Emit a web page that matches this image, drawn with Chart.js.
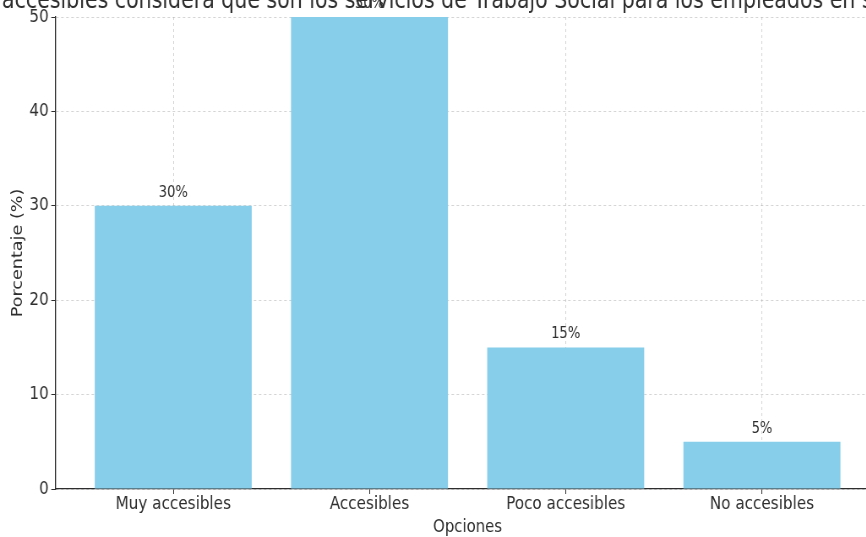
<!DOCTYPE html>
<html><head><meta charset="utf-8">
<script src="https://cdn.jsdelivr.net/npm/chart.js@4.4.1/dist/chart.umd.min.js"></script>
<style>
html,body{margin:0;padding:0;background:#fff;overflow:hidden;}
#wrap{width:866px;height:537px;overflow:hidden;position:relative;background:#fff;}
#c{position:absolute;left:0;top:0;transform:scaleX(0.845);transform-origin:0 0;}
</style></head><body>
<div id="wrap"><canvas id="c" width="1043" height="537"></canvas></div>
<script>
const categories = ['Muy accesibles', 'Accesibles', 'Poco accesibles', 'No accesibles'];
const percentages = [30, 50, 15, 5];
const yTickValues = [0, 10, 20, 30, 40, 50];
const titleText = '¿Qué tan accesibles considera que son los servicios de Trabajo Social para los empleados en su empresa?';
const titleHidden = '¿Qué tan ';
const xTitle = 'Opciones';
const yTitle = 'Porcentaje (%)';

const SX = 0.845;
const FONT = '"DejaVu Sans", "Liberation Sans", sans-serif';
const TXT = '#2e2e2e';

const titlePlugin = {
  id: 'figTitle',
  afterDraw(chart) {
    const ctx = chart.ctx;
    ctx.save();
    ctx.font = '24.3px ' + FONT;
    ctx.fillStyle = TXT;
    ctx.textAlign = 'left';
    ctx.textBaseline = 'alphabetic';
    const x = 2 / SX - ctx.measureText(titleHidden).width;
    ctx.fillText(titleText, x, 8);
    ctx.restore();
  }
};

const labelPlugin = {
  id: 'barLabels',
  afterDatasetsDraw(chart) {
    const ctx = chart.ctx;
    const meta = chart.getDatasetMeta(0);
    ctx.save();
    ctx.font = '15.5px ' + FONT;
    ctx.fillStyle = TXT;
    ctx.textAlign = 'center';
    ctx.textBaseline = 'alphabetic';
    meta.data.forEach((bar, i) => {
      ctx.fillText(percentages[i] + '%', bar.x, bar.y - 9);
    });
    ctx.restore();
  }
};

const gridColor = 'rgba(160,160,160,0.45)';

new Chart(document.getElementById('c'), {
  type: 'bar',
  data: {
    datasets: [{
      data: percentages.map((v, i) => ({ x: i, y: v })),
      backgroundColor: '#87CEEB',
      borderWidth: 0,
      barPercentage: 0.8,
      categoryPercentage: 1.0
    }]
  },
  options: {
    responsive: false,
    animation: false,
    devicePixelRatio: 1,
    layout: { padding: { top: 17, right: 2, bottom: 0, left: 0 } },
    plugins: { legend: { display: false }, tooltip: { enabled: false } },
    scales: {
      x: {
        type: 'linear',
        min: -0.6,
        max: 3.6,
        offset: false,
        z: 1,
        afterBuildTicks: (s) => { s.ticks = categories.map((c, i) => ({ value: i })); },
        afterFit: (s) => { s.height = 48; },
        ticks: {
          autoSkip: false,
          maxRotation: 0,
          padding: 0,
          color: TXT,
          font: { family: FONT, size: 18 },
          callback: (v) => categories[v] !== undefined ? categories[v] : ''
        },
        grid: {
          display: true,
          offset: false,
          color: gridColor,
          lineWidth: 1,
          drawTicks: true,
          tickLength: 5,
          tickColor: TXT,
          tickWidth: 1
        },
        border: { display: true, color: TXT, width: 1.3, dash: [3, 3] },
        title: {
          display: true,
          text: xTitle,
          color: TXT,
          font: { family: FONT, size: 17.6, lineHeight: 1.1 },
          padding: { top: 0, bottom: 0 }
        }
      },
      y: {
        type: 'linear',
        min: 0,
        max: 50,
        z: 1,
        afterBuildTicks: (s) => { s.ticks = yTickValues.map(v => ({ value: v })); },
        afterFit: (s) => { s.width = 65.7; },
        ticks: {
          padding: 3,
          color: TXT,
          font: { family: FONT, size: 18 }
        },
        grid: {
          display: true,
          color: gridColor,
          lineWidth: 1,
          drawTicks: true,
          tickLength: 5,
          tickColor: TXT,
          tickWidth: 1
        },
        border: { display: true, color: TXT, width: 1.3, dash: [3, 3] },
        title: {
          display: true,
          text: yTitle,
          color: TXT,
          font: { family: FONT, size: 17.6, lineHeight: 1.2 },
          padding: { top: 10.7, bottom: 0 }
        }
      }
    }
  },
  plugins: [labelPlugin, titlePlugin]
});
</script>
</body></html>
